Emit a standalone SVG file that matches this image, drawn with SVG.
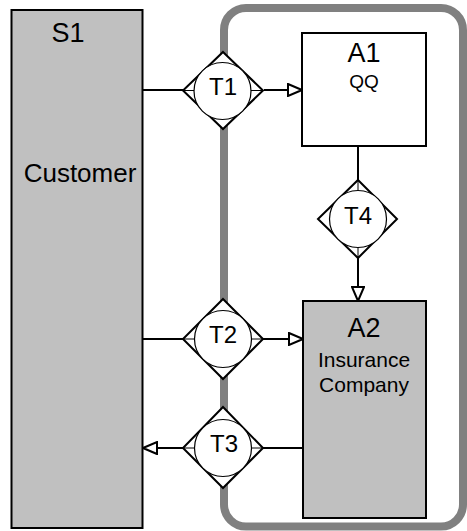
<svg xmlns="http://www.w3.org/2000/svg" width="467" height="531" viewBox="0 0 467 531">
<defs>
<style>
.box{stroke:#000;stroke-width:2}
.gray{fill:#c0c0c0}
.white{fill:#fff}
.dia{fill:#fff;stroke:#000;stroke-width:2}
.circ{fill:#fff;stroke:#000;stroke-width:1.2}
.in{stroke:#000;stroke-width:1}
.conn{stroke:#000;stroke-width:2;fill:none}
text{font-family:"Liberation Sans",Arial,sans-serif;fill:#000;text-anchor:middle}
.big{font-size:27px}
.cust{font-size:26px}
.t{font-size:24px}
.small{font-size:21px}
.qq{font-size:19px}
</style>
<marker id="arr" viewBox="0 0 16 14" refX="15" refY="7" markerWidth="16" markerHeight="14" markerUnits="userSpaceOnUse" orient="auto">
<path d="M1,1 L15,7 L1,13 Z" fill="#fff" stroke="#000" stroke-width="2"/>
</marker>
</defs>
<rect id="frame" x="224" y="8" width="239" height="518.5" rx="22" fill="none" stroke="#808080" stroke-width="8"/>
<g id="S1">
<rect class="box gray" x="11.5" y="10" width="131" height="518"/>
<text class="big" x="68" y="42">S1</text>
<text class="cust" x="80" y="182">Customer</text>
</g>
<g id="A1">
<rect class="box white" x="302" y="33" width="124" height="113"/>
<text class="big" x="364" y="62">A1</text>
<text class="qq" x="364" y="88">QQ</text>
</g>
<g id="A2">
<rect class="box gray" x="303" y="301" width="123" height="217"/>
<text class="big" x="364" y="337">A2</text>
<text class="small" x="364" y="367">Insurance</text>
<text class="small" x="364" y="392">Company</text>
</g>
<g id="connectors">
<line class="conn" x1="143" y1="90" x2="183" y2="90"/>
<line class="conn" x1="264" y1="90" x2="302" y2="90" marker-end="url(#arr)"/>
<line class="conn" x1="358" y1="146" x2="358" y2="180"/>
<line class="conn" x1="358" y1="258" x2="358" y2="301" marker-end="url(#arr)"/>
<line class="conn" x1="143" y1="339" x2="183" y2="339"/>
<line class="conn" x1="263" y1="339" x2="303" y2="339" marker-end="url(#arr)"/>
<line class="conn" x1="303" y1="448" x2="263" y2="448"/>
<line class="conn" x1="183" y1="448" x2="143" y2="448" marker-end="url(#arr)"/>
</g>
<g id="T1">
<path class="dia" d="M223,52 L263,90.5 L223,129 L183,90.5 Z"/>
<line class="in" x1="183" y1="90.5" x2="263" y2="90.5"/>
<circle class="circ" cx="222.5" cy="91" r="28.5"/>
<text class="t" x="223" y="95">T1</text>
</g>
<g id="T4">
<path class="dia" d="M358,180 L397,219 L358,258 L318,219 Z"/>
<line class="in" x1="358" y1="180" x2="358" y2="258"/>
<circle class="circ" cx="358" cy="219" r="28.5"/>
<text class="t" x="358" y="224">T4</text>
</g>
<g id="T2">
<path class="dia" d="M223,299 L263,339 L223,379 L183,339 Z"/>
<line class="in" x1="183" y1="339" x2="263" y2="339"/>
<circle class="circ" cx="223" cy="339" r="28.5"/>
<text class="t" x="223" y="343">T2</text>
</g>
<g id="T3">
<path class="dia" d="M223,407 L263,448 L223,488 L183,448 Z"/>
<line class="in" x1="183" y1="448" x2="263" y2="448"/>
<circle class="circ" cx="223" cy="448" r="28.5"/>
<text class="t" x="224" y="452">T3</text>
</g>
</svg>
